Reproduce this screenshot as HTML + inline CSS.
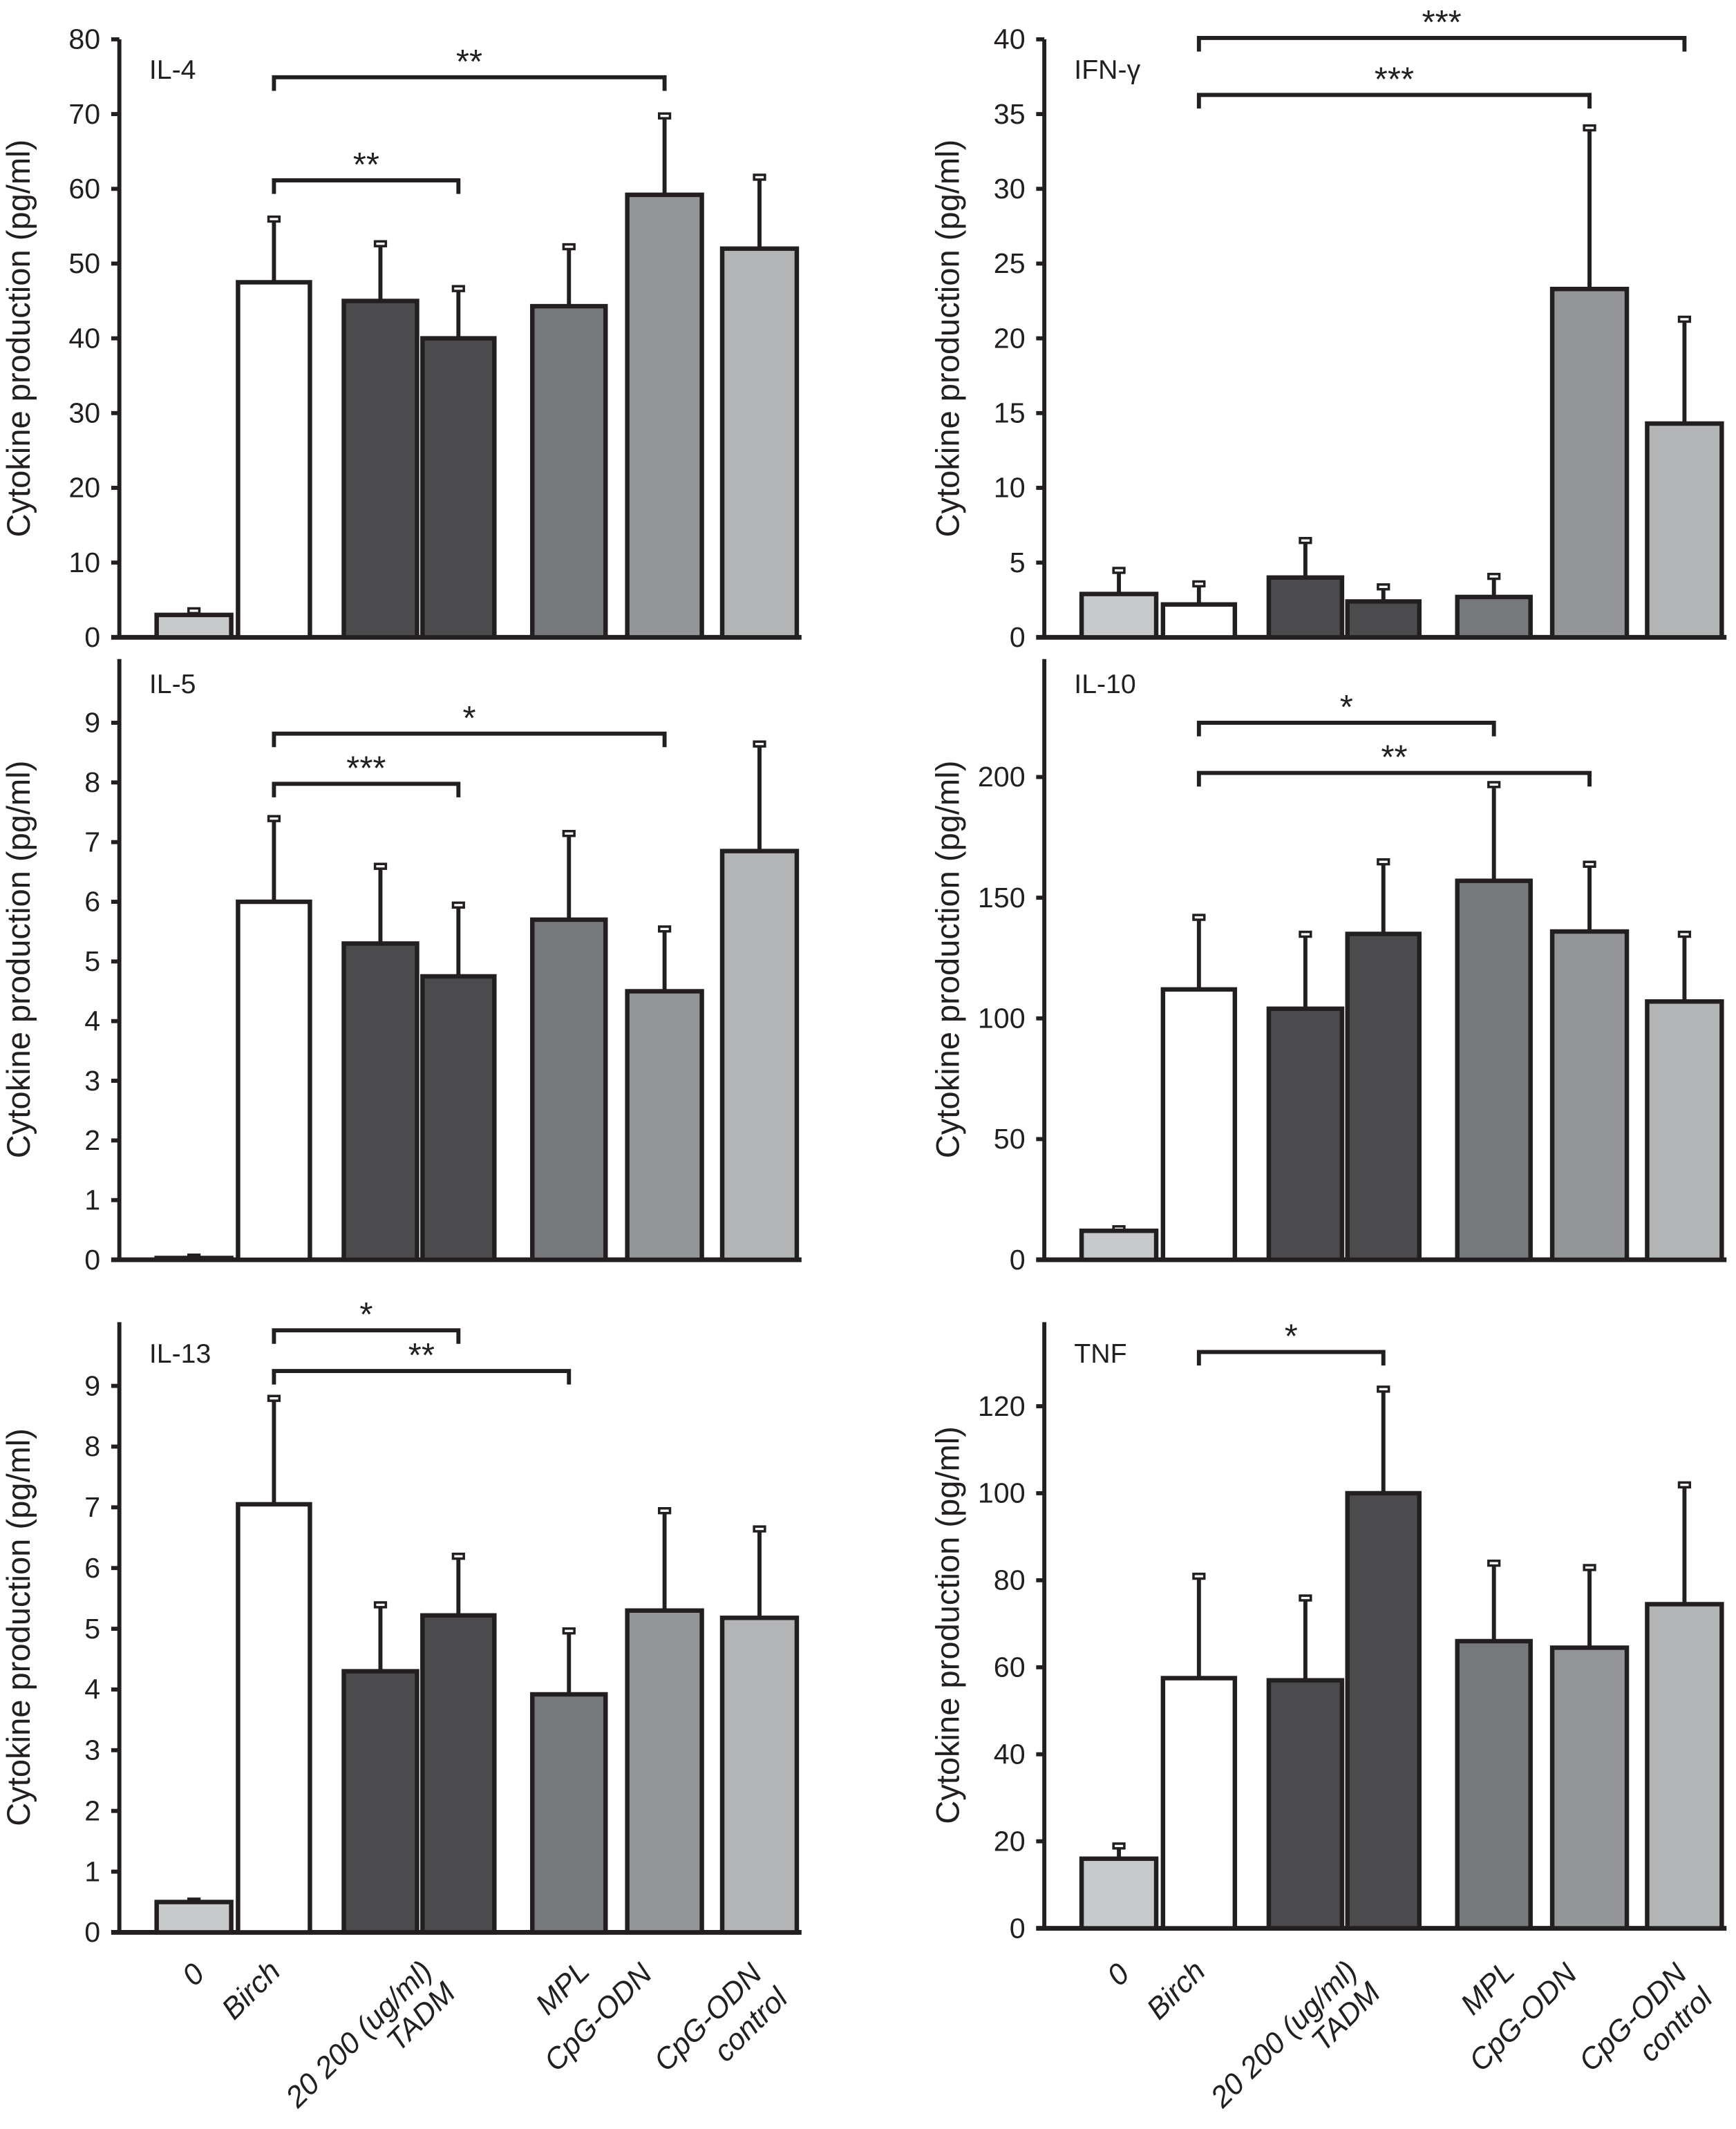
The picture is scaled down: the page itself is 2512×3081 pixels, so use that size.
<!DOCTYPE html>
<html><head><meta charset="utf-8">
<style>
html,body{margin:0;padding:0;background:#fff;}
svg{display:block;}
text{font-family:"Liberation Sans Narrow","Liberation Sans",sans-serif;fill:#231f20;}
</style></head>
<body>
<svg id="fig" width="2512" height="3081" viewBox="0 0 1280 1570" preserveAspectRatio="none" xmlns="http://www.w3.org/2000/svg"></svg>
<script>
const categories = ["0","Birch","TADM 20","TADM 200","MPL","CpG-ODN","CpG-ODN control"];
const barColors = ["#c8c9cb","#ffffff","#4b4b4e","#4b4b4e","#77787c","#949598","#b3b4b6"];

const il4Values = [3, 47.5, 45, 40, 44.3, 59.2, 52];
const il4Errors = [3.6, 56, 52.7, 46.7, 52.3, 69.8, 61.6];
const il4Ticks = [0,10,20,30,40,50,60,70,80];

const ifnValues = [2.9, 2.2, 4.0, 2.4, 2.7, 23.3, 14.3];
const ifnErrors = [4.5, 3.6, 6.5, 3.4, 4.1, 34.1, 21.3];
const ifnTicks = [0,5,10,15,20,25,30,35,40];

const il5Values = [0.03, 6.0, 5.3, 4.75, 5.7, 4.5, 6.85];
const il5Errors = [0.05, 7.4, 6.6, 5.95, 7.15, 5.55, 8.65];
const il5Ticks = [0,1,2,3,4,5,6,7,8,9];

const il10Values = [12, 112, 104, 135, 157, 136, 107];
const il10Errors = [13, 142, 135, 165, 197, 164, 135];
const il10Ticks = [0,50,100,150,200];

const il13Values = [0.5, 7.05, 4.3, 5.22, 3.92, 5.3, 5.18];
const il13Errors = [0.52, 8.8, 5.4, 6.2, 4.97, 6.95, 6.65];
const il13Ticks = [0,1,2,3,4,5,6,7,8,9];

const tnfValues = [16, 57.5, 57, 100, 66, 64.5, 74.5];
const tnfErrors = [19, 81, 76, 124, 84, 83, 102];
const tnfTicks = [0,20,40,60,80,100,120];

const NS="http://www.w3.org/2000/svg";
const svg=document.getElementById('fig');
function el(tag,attrs,parent){const e=document.createElementNS(NS,tag);for(const k in attrs)e.setAttribute(k,attrs[k]);(parent||svg).appendChild(e);return e;}

const leftBars=[[114,172],[174,230],[252,309],[310,366],[391,448],[461,519],[531,589]];
function panel(o){
  const g=el('g',{});
  
  
  const dx=o.dx, ax=88+dx;
  const y=v=>o.y0-(v-0)/(o.vmax)*(o.y0-o.yTop);
  const ya=el('line',{x1:ax,y1:o.axTop,x2:ax,y2:o.y0+1,stroke:'#231f20','stroke-width':3},g);
  
  
  const xa=el('line',{x1:ax-6,y1:o.y0,x2:591+dx,y2:o.y0,stroke:'#231f20','stroke-width':3.5},g);
  
  
  o.ticks.forEach(t=>{
    el('line',{x1:ax-6,y1:y(t),x2:ax,y2:y(t),stroke:'#231f20','stroke-width':3},g);
    const tx=el('text',{x:ax-14,y:y(t)+7,'text-anchor':'end','font-size':21},g);
    tx.textContent=t;
    
    
  });
  const title=el('text',{x:110+dx,y:o.titleY,'font-size':20},g);
  title.textContent=o.title;
  
  
  const cy=(o.axTop+o.y0)/2;
  const yl=el('text',{x:0,y:0,'text-anchor':'middle','font-size':24,style:'font-family:"Liberation Sans",sans-serif',transform:`translate(${22+dx+(dx?3:0)},${cy}) rotate(-90)`},g);
  yl.textContent='Cytokine production (pg/ml)';
  
  
  o.values.forEach((v,i)=>{
    const x0=leftBars[i][0]+dx, x1=leftBars[i][1]+dx, cx=(x0+x1)/2;
    const top=y(v), et=y(o.errors[i]);
    const eb=el('line',{x1:cx,y1:et,x2:cx,y2:top,stroke:'#231f20','stroke-width':3},g);
    
    
    el('rect',{x:cx-4,y:et-1.5,width:8,height:3.5,fill:'#fff',stroke:'#231f20','stroke-width':1.8},g);
    const r=el('rect',{x:x0+1.5,y:top,width:x1-x0-3,height:o.y0-top,fill:barColors[i],stroke:'#231f20','stroke-width':3.3},g);
    
    
  });
  o.brackets.forEach(b=>{
    const c1=(leftBars[b[0]][0]+leftBars[b[0]][1])/2+dx, c2=(leftBars[b[1]][0]+leftBars[b[1]][1])/2+dx;
    const p=el('path',{d:`M${c1} ${b[2]+10}V${b[2]}H${c2}V${b[2]+10}`,fill:'none',stroke:'#231f20','stroke-width':3},g);
    
    
    const s=el('text',{x:(c1+c2)/2,y:b[2]-3,'text-anchor':'middle','font-size':25},g);
    s.textContent=b[3];
    
    
  });
}
panel({name:'il-4',title:'IL-4',dx:0,y0:470,yTop:29,vmax:80,axTop:29,titleY:58,ticks:il4Ticks,values:il4Values,errors:il4Errors,brackets:[[1,5,57,'**'],[1,3,133,'**']]});
panel({name:'ifn-gamma',title:'IFN-γ',dx:682,y0:470,yTop:29,vmax:40,axTop:29,titleY:58,ticks:ifnTicks,values:ifnValues,errors:ifnErrors,brackets:[[1,6,28,'***'],[1,5,70,'***']]});
panel({name:'il-5',title:'IL-5',dx:0,y0:929,yTop:533,vmax:9,axTop:486,titleY:511,ticks:il5Ticks,values:il5Values,errors:il5Errors,brackets:[[1,5,541,'*'],[1,3,578,'***']]});
panel({name:'il-10',title:'IL-10',dx:682,y0:929,yTop:573,vmax:200,axTop:486,titleY:511,ticks:il10Ticks,values:il10Values,errors:il10Errors,brackets:[[1,4,533,'*'],[1,5,570,'**']]});
panel({name:'il-13',title:'IL-13',dx:0,y0:1425,yTop:1022,vmax:9,axTop:975,titleY:1005,ticks:il13Ticks,values:il13Values,errors:il13Errors,brackets:[[1,3,981,'*'],[1,4,1011,'**']]});
panel({name:'tnf',title:'TNF',dx:682,y0:1422,yTop:1037,vmax:120,axTop:975,titleY:1005,ticks:tnfTicks,values:tnfValues,errors:tnfErrors,brackets:[[1,3,997,'*']]});

const xLabels=[["0",152,1442],["Birch",208,1440],["20 200 (ug/ml)",320,1440],["TADM",337,1456],["MPL",436,1440],["CpG-ODN",482,1442],["CpG-ODN",563,1442],["control",582,1460]];
[0,682].forEach(dx=>{
  xLabels.forEach(l=>{
    const t=el('text',{x:0,y:0,'text-anchor':'end','font-size':22,style:'font-family:"Liberation Sans",sans-serif;font-style:italic',transform:`translate(${l[1]+dx},${l[2]+15}) rotate(-45)`});
    t.textContent=l[0];
    
    
  });
});
</script>
</body></html>
